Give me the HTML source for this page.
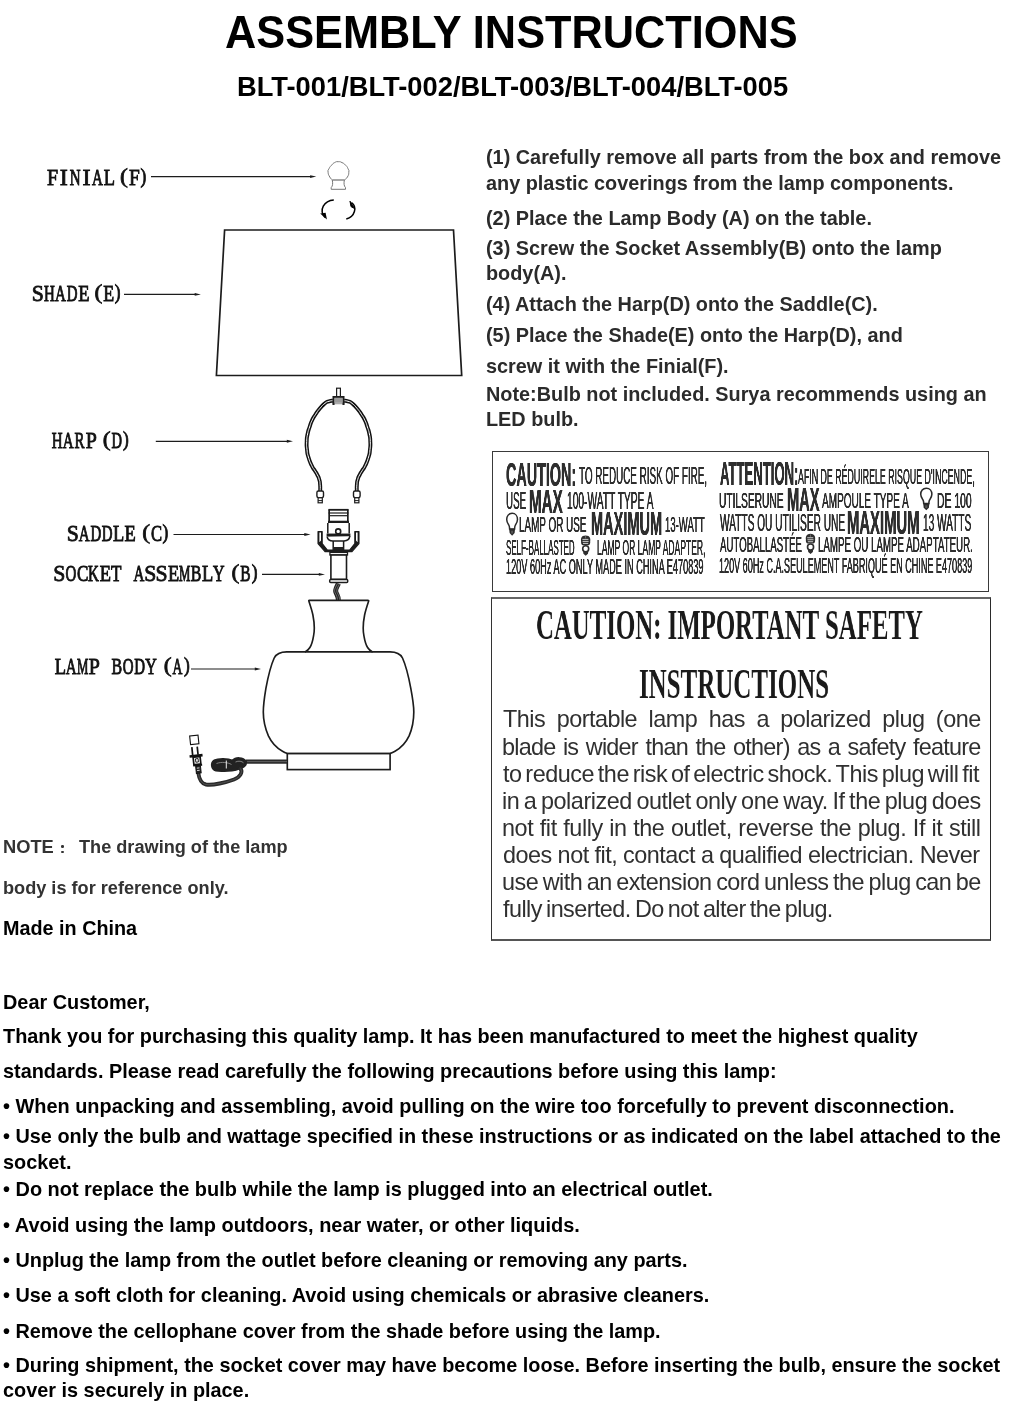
<!DOCTYPE html>
<html><head><meta charset="utf-8"><title>Assembly Instructions</title>
<style>
html,body{margin:0;padding:0;background:#fff;}
body{width:1024px;height:1407px;position:relative;overflow:hidden;font-family:"Liberation Sans",sans-serif;}
.t{position:absolute;white-space:nowrap;will-change:transform;}
svg{position:absolute;left:0;top:0;will-change:transform;}
</style></head><body>
<svg width="1024" height="1407" viewBox="0 0 1024 1407">
<g font-family="'Liberation Serif',serif" font-weight="normal" font-size="22.8" fill="#111" stroke="#111" stroke-width="0.8"><text vector-effect="non-scaling-stroke" transform="translate(46.94 184.80) scale(0.875 1.000)">F</text><text vector-effect="non-scaling-stroke" transform="translate(59.85 184.80) scale(1.057 1.000)">I</text><text vector-effect="non-scaling-stroke" transform="translate(69.67 184.80) scale(0.656 1.000)">N</text><text vector-effect="non-scaling-stroke" transform="translate(82.59 184.80) scale(1.057 1.000)">I</text><text vector-effect="non-scaling-stroke" transform="translate(92.07 184.80) scale(0.659 1.000)">A</text><text vector-effect="non-scaling-stroke" transform="translate(103.79 184.80) scale(0.808 1.000)">L</text><text vector-effect="non-scaling-stroke" transform="translate(120.09 182.81) scale(1.033 0.918)">(</text><text vector-effect="non-scaling-stroke" transform="translate(128.92 184.80) scale(0.850 1.000)">F</text><text vector-effect="non-scaling-stroke" transform="translate(140.42 182.81) scale(0.757 0.918)">)</text></g>
<g font-family="'Liberation Serif',serif" font-weight="normal" font-size="22.8" fill="#111" stroke="#111" stroke-width="0.8"><text vector-effect="non-scaling-stroke" transform="translate(31.78 301.00) scale(0.955 1.000)">S</text><text vector-effect="non-scaling-stroke" transform="translate(44.10 301.00) scale(0.656 1.000)">H</text><text vector-effect="non-scaling-stroke" transform="translate(55.12 301.00) scale(0.659 1.000)">A</text><text vector-effect="non-scaling-stroke" transform="translate(66.84 301.00) scale(0.656 1.000)">D</text><text vector-effect="non-scaling-stroke" transform="translate(78.22 301.00) scale(0.808 1.000)">E</text><text vector-effect="non-scaling-stroke" transform="translate(94.52 299.01) scale(1.033 0.918)">(</text><text vector-effect="non-scaling-stroke" transform="translate(103.35 301.00) scale(0.785 1.000)">E</text><text vector-effect="non-scaling-stroke" transform="translate(114.85 299.01) scale(0.757 0.918)">)</text></g>
<g font-family="'Liberation Serif',serif" font-weight="normal" font-size="22.8" fill="#111" stroke="#111" stroke-width="0.8"><text vector-effect="non-scaling-stroke" transform="translate(51.64 447.50) scale(0.656 1.000)">H</text><text vector-effect="non-scaling-stroke" transform="translate(62.65 447.50) scale(0.659 1.000)">A</text><text vector-effect="non-scaling-stroke" transform="translate(74.38 447.50) scale(0.656 1.000)">R</text><text vector-effect="non-scaling-stroke" transform="translate(85.75 447.50) scale(0.875 1.000)">P</text><text vector-effect="non-scaling-stroke" transform="translate(102.65 445.51) scale(1.033 0.918)">(</text><text vector-effect="non-scaling-stroke" transform="translate(111.48 447.50) scale(0.638 1.000)">D</text><text vector-effect="non-scaling-stroke" transform="translate(122.98 445.51) scale(0.757 0.918)">)</text></g>
<g font-family="'Liberation Serif',serif" font-weight="normal" font-size="22.8" fill="#111" stroke="#111" stroke-width="0.8"><text vector-effect="non-scaling-stroke" transform="translate(66.68 541.00) scale(0.955 1.000)">S</text><text vector-effect="non-scaling-stroke" transform="translate(78.66 541.00) scale(0.659 1.000)">A</text><text vector-effect="non-scaling-stroke" transform="translate(90.38 541.00) scale(0.656 1.000)">D</text><text vector-effect="non-scaling-stroke" transform="translate(101.75 541.00) scale(0.656 1.000)">D</text><text vector-effect="non-scaling-stroke" transform="translate(113.12 541.00) scale(0.808 1.000)">L</text><text vector-effect="non-scaling-stroke" transform="translate(124.49 541.00) scale(0.808 1.000)">E</text><text vector-effect="non-scaling-stroke" transform="translate(142.19 539.01) scale(1.033 0.918)">(</text><text vector-effect="non-scaling-stroke" transform="translate(151.02 541.00) scale(0.729 1.000)">C</text><text vector-effect="non-scaling-stroke" transform="translate(162.52 539.01) scale(0.757 0.918)">)</text></g>
<g font-family="'Liberation Serif',serif" font-weight="normal" font-size="22.8" fill="#111" stroke="#111" stroke-width="0.8"><text vector-effect="non-scaling-stroke" transform="translate(53.28 581.00) scale(0.955 1.000)">S</text><text vector-effect="non-scaling-stroke" transform="translate(65.61 581.00) scale(0.656 1.000)">O</text><text vector-effect="non-scaling-stroke" transform="translate(76.98 581.00) scale(0.750 1.000)">C</text><text vector-effect="non-scaling-stroke" transform="translate(88.00 581.00) scale(0.659 1.000)">K</text><text vector-effect="non-scaling-stroke" transform="translate(99.72 581.00) scale(0.808 1.000)">E</text><text vector-effect="non-scaling-stroke" transform="translate(111.09 581.00) scale(0.750 1.000)">T</text><text vector-effect="non-scaling-stroke" transform="translate(133.48 581.00) scale(0.659 1.000)">A</text><text vector-effect="non-scaling-stroke" transform="translate(144.24 581.00) scale(0.955 1.000)">S</text><text vector-effect="non-scaling-stroke" transform="translate(155.61 581.00) scale(0.955 1.000)">S</text><text vector-effect="non-scaling-stroke" transform="translate(167.94 581.00) scale(0.808 1.000)">E</text><text vector-effect="non-scaling-stroke" transform="translate(178.96 581.00) scale(0.560 1.000)">M</text><text vector-effect="non-scaling-stroke" transform="translate(190.68 581.00) scale(0.700 1.000)">B</text><text vector-effect="non-scaling-stroke" transform="translate(202.05 581.00) scale(0.808 1.000)">L</text><text vector-effect="non-scaling-stroke" transform="translate(213.07 581.00) scale(0.700 1.000)">Y</text><text vector-effect="non-scaling-stroke" transform="translate(231.52 579.01) scale(1.033 0.918)">(</text><text vector-effect="non-scaling-stroke" transform="translate(240.35 581.00) scale(0.680 1.000)">B</text><text vector-effect="non-scaling-stroke" transform="translate(251.85 579.01) scale(0.757 0.918)">)</text></g>
<g font-family="'Liberation Serif',serif" font-weight="normal" font-size="22.8" fill="#111" stroke="#111" stroke-width="0.8"><text vector-effect="non-scaling-stroke" transform="translate(54.64 674.00) scale(0.808 1.000)">L</text><text vector-effect="non-scaling-stroke" transform="translate(65.66 674.00) scale(0.659 1.000)">A</text><text vector-effect="non-scaling-stroke" transform="translate(77.03 674.00) scale(0.560 1.000)">M</text><text vector-effect="non-scaling-stroke" transform="translate(88.75 674.00) scale(0.875 1.000)">P</text><text vector-effect="non-scaling-stroke" transform="translate(111.49 674.00) scale(0.700 1.000)">B</text><text vector-effect="non-scaling-stroke" transform="translate(122.86 674.00) scale(0.656 1.000)">O</text><text vector-effect="non-scaling-stroke" transform="translate(134.23 674.00) scale(0.656 1.000)">D</text><text vector-effect="non-scaling-stroke" transform="translate(145.25 674.00) scale(0.700 1.000)">Y</text><text vector-effect="non-scaling-stroke" transform="translate(163.70 672.01) scale(1.033 0.918)">(</text><text vector-effect="non-scaling-stroke" transform="translate(172.53 674.00) scale(0.600 1.000)">A</text><text vector-effect="non-scaling-stroke" transform="translate(184.03 672.01) scale(0.757 0.918)">)</text></g>
<path d="M151 176.6H311.3" stroke="#1c1c1c" stroke-width="1.2" fill="none"/>
<path d="M316.3 176.6L310.1 175.15L310.1 178.04999999999998Z" fill="#1c1c1c"/>
<path d="M124 294.4H195.9" stroke="#1c1c1c" stroke-width="1.2" fill="none"/>
<path d="M200.9 294.4L194.70000000000002 292.95L194.70000000000002 295.84999999999997Z" fill="#1c1c1c"/>
<path d="M155.8 441.3H288" stroke="#1c1c1c" stroke-width="1.2" fill="none"/>
<path d="M293 441.3L286.8 439.85L286.8 442.75Z" fill="#1c1c1c"/>
<path d="M173.5 534.5H305.5" stroke="#1c1c1c" stroke-width="1.2" fill="none"/>
<path d="M310.5 534.5L304.3 533.05L304.3 535.95Z" fill="#1c1c1c"/>
<path d="M262 574.4H320" stroke="#1c1c1c" stroke-width="1.2" fill="none"/>
<path d="M325 574.4L318.8 572.9499999999999L318.8 575.85Z" fill="#1c1c1c"/>
<path d="M191 669H256" stroke="#1c1c1c" stroke-width="1.2" fill="none"/>
<path d="M261 669L254.8 667.55L254.8 670.45Z" fill="#1c1c1c"/>
<g fill="none" stroke="#777" stroke-width="1"><path d="M332.20 179.90 C331.40 178.93 331.17 179.53 329.80 177.00 C328.43 174.47 328.37 175.07 328.10 172.30 C327.83 169.53 327.83 171.07 329.00 168.70 C330.17 166.33 329.73 167.23 331.60 165.20 C333.47 163.17 332.38 163.77 334.60 162.60 C336.82 161.43 335.78 161.70 338.25 161.70 C340.72 161.70 339.55 161.43 342.00 162.60 C344.45 163.77 343.60 163.17 345.60 165.20 C347.60 167.23 346.93 166.33 348.00 168.70 C349.07 171.07 349.00 169.53 348.80 172.30 C348.60 175.07 348.87 174.47 347.40 177.00 C345.93 179.53 345.40 178.93 344.40 179.90"/><path d="M332.2 179.9 C333 183 332.8 186 331.2 187.6 L331.2 189.3 L345.5 189.3 L345.5 187.6 C343.9 186 343.7 183 344.4 179.9"/><path d="M332.2 180 H344.4" stroke-width="1.3"/></g>
<g fill="none" stroke="#000" stroke-width="1.5"><path d="M333.8 199.9 C324 200.5 318.5 210 325 217.5"/><path d="M346.3 219 C355 216.5 357.5 207 351.5 202.5"/></g>
<path d="M320.2 213.6 L326.9 219.6 L325.6 212.8 Z" fill="#000"/>
<path d="M350 201.2 L354.6 208.6 L351 206.6 Z" fill="#000" stroke="#000" stroke-width="1"/>
<path d="M224.6 230 L453.5 230 L461.7 375.5 L216.4 375.5 Z" fill="#fff" stroke="#1c1c1c" stroke-width="1.7" stroke-linejoin="miter"/>
<path d="M333.00 400.70 C331.67 400.90 331.67 400.43 329.00 401.30 C326.33 402.17 328.00 400.97 325.00 403.30 C322.00 405.63 323.13 404.63 320.00 408.30 C316.87 411.97 318.27 410.23 315.60 414.30 C312.93 418.37 314.00 416.27 312.00 420.50 C310.00 424.73 311.07 422.50 309.60 427.00 C308.13 431.50 308.57 429.17 307.60 434.00 C306.63 438.83 306.90 436.33 306.70 441.50 C306.50 446.67 306.43 444.33 307.00 449.50 C307.57 454.67 306.83 451.67 308.40 457.00 C309.97 462.33 309.63 461.07 311.70 465.50 C313.77 469.93 312.73 467.20 314.60 470.30 C316.47 473.40 315.77 471.80 317.30 474.80 C318.83 477.80 318.27 476.07 319.20 479.30 C320.13 482.53 319.77 480.60 320.10 484.50 C320.43 488.40 320.17 488.83 320.20 491.00" fill="none" stroke="#111" stroke-width="3.9"/>
<path d="M333.00 400.70 C331.67 400.90 331.67 400.43 329.00 401.30 C326.33 402.17 328.00 400.97 325.00 403.30 C322.00 405.63 323.13 404.63 320.00 408.30 C316.87 411.97 318.27 410.23 315.60 414.30 C312.93 418.37 314.00 416.27 312.00 420.50 C310.00 424.73 311.07 422.50 309.60 427.00 C308.13 431.50 308.57 429.17 307.60 434.00 C306.63 438.83 306.90 436.33 306.70 441.50 C306.50 446.67 306.43 444.33 307.00 449.50 C307.57 454.67 306.83 451.67 308.40 457.00 C309.97 462.33 309.63 461.07 311.70 465.50 C313.77 469.93 312.73 467.20 314.60 470.30 C316.47 473.40 315.77 471.80 317.30 474.80 C318.83 477.80 318.27 476.07 319.20 479.30 C320.13 482.53 319.77 480.60 320.10 484.50 C320.43 488.40 320.17 488.83 320.20 491.00" fill="none" stroke="#fff" stroke-width="1.0"/>
<path d="M344.00 400.70 C345.33 400.90 345.33 400.43 348.00 401.30 C350.67 402.17 349.00 400.97 352.00 403.30 C355.00 405.63 353.87 404.63 357.00 408.30 C360.13 411.97 358.73 410.23 361.40 414.30 C364.07 418.37 363.00 416.27 365.00 420.50 C367.00 424.73 365.93 422.50 367.40 427.00 C368.87 431.50 368.43 429.17 369.40 434.00 C370.37 438.83 370.10 436.33 370.30 441.50 C370.50 446.67 370.57 444.33 370.00 449.50 C369.43 454.67 370.17 451.67 368.60 457.00 C367.03 462.33 367.37 461.07 365.30 465.50 C363.23 469.93 364.27 467.20 362.40 470.30 C360.53 473.40 361.23 471.80 359.70 474.80 C358.17 477.80 358.73 476.07 357.80 479.30 C356.87 482.53 357.23 480.60 356.90 484.50 C356.57 488.40 356.83 488.83 356.80 491.00" fill="none" stroke="#111" stroke-width="3.9"/>
<path d="M344.00 400.70 C345.33 400.90 345.33 400.43 348.00 401.30 C350.67 402.17 349.00 400.97 352.00 403.30 C355.00 405.63 353.87 404.63 357.00 408.30 C360.13 411.97 358.73 410.23 361.40 414.30 C364.07 418.37 363.00 416.27 365.00 420.50 C367.00 424.73 365.93 422.50 367.40 427.00 C368.87 431.50 368.43 429.17 369.40 434.00 C370.37 438.83 370.10 436.33 370.30 441.50 C370.50 446.67 370.57 444.33 370.00 449.50 C369.43 454.67 370.17 451.67 368.60 457.00 C367.03 462.33 367.37 461.07 365.30 465.50 C363.23 469.93 364.27 467.20 362.40 470.30 C360.53 473.40 361.23 471.80 359.70 474.80 C358.17 477.80 358.73 476.07 357.80 479.30 C356.87 482.53 357.23 480.60 356.90 484.50 C356.57 488.40 356.83 488.83 356.80 491.00" fill="none" stroke="#fff" stroke-width="1.0"/>
<rect x="336.6" y="388.2" width="3.8" height="8.5" fill="#fff" stroke="#1c1c1c" stroke-width="1.2"/>
<path d="M333.4 404.3 V396.9 H343.6 V404.3" fill="#aaa" stroke="#1c1c1c" stroke-width="1.8"/>
<rect x="334.6" y="398.2" width="7.8" height="3.9" fill="#9a9a9a"/>
<path d="M333.5 403.5 V404.9 M343.5 403.5 V404.9" stroke="#1c1c1c" stroke-width="2"/>
<rect x="316.9" y="491" width="6.6" height="6.6" rx="1.5" fill="#fff" stroke="#1c1c1c" stroke-width="1.4"/>
<rect x="318.09999999999997" y="497.8" width="4.2" height="5" fill="#fff" stroke="#1c1c1c" stroke-width="1.2"/>
<path d="M318.09999999999997 500.6 H322.3" stroke="#1c1c1c" stroke-width="1"/>
<rect x="353.5" y="491" width="6.6" height="6.6" rx="1.5" fill="#fff" stroke="#1c1c1c" stroke-width="1.4"/>
<rect x="354.7" y="497.8" width="4.2" height="5" fill="#fff" stroke="#1c1c1c" stroke-width="1.2"/>
<path d="M354.7 500.6 H358.90000000000003" stroke="#1c1c1c" stroke-width="1"/>
<g fill="none" stroke="#1c1c1c"><rect x="329" y="509.6" width="19" height="11.8" fill="#fff"/><path d="M328.6 509.8 H348.4" stroke-width="1.8"/><path d="M328.6 513 H348.4" stroke-width="1.2"/><path d="M329 515.7 H348" stroke-width="1.2"/><path d="M329.3 509.8 V521.5 M347.7 509.8 V521.5" stroke-width="1.4"/><path d="M328 521.9 H349" stroke-width="2.2"/><path d="M327.8 523 V533.5 M349.2 523 V533.5" stroke-width="1.5"/><path d="M326.6 535.2 H350.4" stroke-width="3.3"/><path d="M327.2 536.8 C327.6 539.5 330 540.9 333 540.9 H344 C347 540.9 349.4 539.5 349.8 536.2" stroke-width="1.5" fill="#fff"/><circle cx="338.2" cy="531.4" r="2.5" fill="#fff" stroke-width="1.6"/><path d="M333.2 541 V550 M343.6 541 V550" stroke-width="1.5"/><rect x="333.8" y="547" width="9.2" height="3" fill="#222" stroke="none"/><path d="M318 531.5 H322.2 V543.6 L327.4 550.1 H349.6 L354.8 543.6 V531.5 H359 V543.6 L352 551.6 H325 L318 543.6 Z" fill="#1c1c1c" stroke-width="1.1" stroke-linejoin="round"/><path d="M319.4 532.6 H321 V540.6 L319.4 542.2 Z M356 532.6 H357.6 V542.2 L356 540.6 Z" fill="#fff" stroke="none"/><rect x="329.9" y="552.4" width="17.6" height="2.6" fill="#fff" stroke-width="1.3"/><rect x="330.9" y="555" width="15.6" height="24.4" fill="#fff" stroke-width="1.6"/><rect x="329.7" y="579.6" width="18" height="3" rx="1" fill="#fff" stroke-width="1.5"/></g>
<path d="M338.4 583.5 C337 587 334.6 589.5 336 592.5 C337.4 595.5 338.6 597 338.4 600.5" fill="none" stroke="#222" stroke-width="5"/>
<path d="M337.4 583.5 C336 587 333.6 589.5 335 592.5 C336.4 595.5 337.6 597 337.4 600.5 M339.6 583.5 C338.2 587 335.8 589.5 337.2 592.5 C338.6 595.5 339.8 597 339.6 600.5" fill="none" stroke="#999" stroke-width="0.6"/>
<path d="M309.2 600.3 H367.9 Q368.9 600.3 368.6 601.2 C367 606 365.4 611 364.6 615 C363 623 362.8 630 363.9 635.7 C364.8 641 366 645 367.6 647.5 C369 649.8 370.5 651 372.5 651.9 H390 C397 651.9 400.5 654 402.5 658 C405 663.5 408.5 676 410.8 688.4 C412.6 698 413.8 706 413.8 712 C413.8 719 412.5 728 409.1 735.9 C406 742.5 401 748 395 751.2 C393 752.3 391.5 753 390.1 753.6 H287.3 C286 753 284.5 752.3 282.5 751.2 C276.5 748 271.5 742.5 268.4 735.9 C265 728 263.3 719 263.3 712 C263.3 706 264.3 698 265.9 688.4 C268.2 676 271.7 663.5 274.2 658 C276.2 654 279.7 651.9 286.7 651.9 H305 C307 651 308.5 649.8 309.9 647.5 C311.5 645 312.7 641 313.6 635.7 C314.7 630 314.5 623 312.9 615 C312.1 611 310.5 606 308.9 601.2 Q308.6 600.3 309.2 600.3 Z" fill="#fff" stroke="#1c1c1c" stroke-width="1.65" stroke-linejoin="round"/>
<path d="M305 651.9 H372.5" stroke="#1c1c1c" stroke-width="1.65"/>
<rect x="287.3" y="753.6" width="102.8" height="16" fill="#fff" stroke="#1c1c1c" stroke-width="1.65"/>
<path d="M287 761.6 H246" stroke="#2a2a2a" stroke-width="4.4" fill="none"/>
<path d="M287 761.6 H246" stroke="#777" stroke-width="0.7" fill="none"/>
<path d="M246 761.5 C243 757.5 236 757 232.5 760.8 C228 758.5 218 758.5 214.5 760.5 C210.5 763 211.5 769 216 770.5 C222 771.8 232 770.2 236.5 769.5 C241 768.5 246.5 766 246 761.5 Z" fill="#222" stroke="#222" stroke-width="2.2"/>
<path d="M216.5 763.5 C222 761.5 228 762.5 231.5 764.5 M235.5 762 C238.5 760.5 242 761.2 243.5 762.8" stroke="#999" stroke-width="0.8" fill="none"/>
<path d="M226.3 760.5 V768.5" stroke="#eee" stroke-width="1"/>
<path d="M240.5 768.5 C243 772 240.5 777 234 779.5 C226 782.5 213 785.5 206 784.5 C201 783.5 199 778 198.3 773" stroke="#2a2a2a" stroke-width="3.9" fill="none" stroke-linecap="round"/>
<path d="M240.5 768.5 C243 772 240.5 777 234 779.5 C226 782.5 213 785.5 206 784.5 C201 783.5 199 778 198.3 773" stroke="#777" stroke-width="0.5" fill="none"/>
<g transform="rotate(-6 196 760)"><rect x="192.2" y="735.4" width="8.4" height="8.8" fill="#fff" stroke="#111" stroke-width="1.1"/><path d="M193.2 746.8 V755 M198.6 746.8 V755" stroke="#111" stroke-width="1.7"/><path d="M190 755.8 H203" stroke="#111" stroke-width="2.6"/><rect x="193.4" y="757" width="7" height="7.4" fill="#fff" stroke="#111" stroke-width="1.7"/><rect x="195.6" y="758.8" width="2.6" height="3.4" fill="#fff" stroke="#111" stroke-width="0.9"/><path d="M192.6 765.3 H201.6" stroke="#111" stroke-width="2"/><rect x="195" y="766.4" width="4.8" height="7" fill="#222" stroke="#111" stroke-width="1"/><path d="M196 768.2 H198.6 M196 770.6 H198.6" stroke="#ddd" stroke-width="0.9"/></g>
</svg>
<style>.c{transform-origin:0 50%;text-shadow:0.5px 0 0 currentColor,-0.5px 0 0 currentColor}.h{text-shadow:none}</style>
<div style="position:absolute;left:492.2px;top:451.1px;width:497px;height:140.9px;border:1.35px solid #3a3a3a;box-sizing:border-box"></div>
<div style="position:absolute;left:491.3px;top:597.3px;width:500px;height:343.4px;border-style:solid;border-color:#666 #2a2a2a #555 #333;border-width:2.6px 1.7px 2.1px 1.8px;box-sizing:border-box"></div>
<div class="t c" style="left:505.77px;top:458.43px;font:bold 33.16px/1 'Liberation Sans',sans-serif;color:#2e2e2e;transform:scaleX(0.4330)">CAUTION:</div>
<div class="t c" style="left:578.70px;top:464.60px;font:normal 23.51px/1 'Liberation Sans',sans-serif;color:#2e2e2e;transform:scaleX(0.4197)">TO REDUCE RISK OF FIRE,</div>
<div class="t c" style="left:505.78px;top:490.05px;font:normal 23.21px/1 'Liberation Sans',sans-serif;color:#2e2e2e;transform:scaleX(0.4218)">USE</div>
<div class="t c" style="left:529.48px;top:485.03px;font:bold 33.16px/1 'Liberation Sans',sans-serif;color:#2e2e2e;transform:scaleX(0.4585)">MAX</div>
<div class="t c" style="left:567.46px;top:490.05px;font:normal 23.21px/1 'Liberation Sans',sans-serif;color:#2e2e2e;transform:scaleX(0.4402)">100-WATT TYPE A</div>
<div class="t c" style="left:519.47px;top:513.31px;font:normal 22.91px/1 'Liberation Sans',sans-serif;color:#2e2e2e;transform:scaleX(0.4321)">LAMP OR USE</div>
<div class="t c" style="left:590.52px;top:507.43px;font:bold 33.16px/1 'Liberation Sans',sans-serif;color:#2e2e2e;transform:scaleX(0.4388)">MAXIMUM</div>
<div class="t c" style="left:664.58px;top:513.31px;font:normal 22.91px/1 'Liberation Sans',sans-serif;color:#2e2e2e;transform:scaleX(0.4161)">13-WATT</div>
<div class="t c" style="left:505.85px;top:536.13px;font:normal 22.76px/1 'Liberation Sans',sans-serif;color:#2e2e2e;transform:scaleX(0.3506)">SELF-BALLASTED</div>
<div class="t c" style="left:597.42px;top:536.13px;font:normal 22.76px/1 'Liberation Sans',sans-serif;color:#2e2e2e;transform:scaleX(0.3755)">LAMP OR LAMP ADAPTER,</div>
<div class="t c" style="left:505.79px;top:556.42px;font:normal 22.31px/1 'Liberation Sans',sans-serif;color:#2e2e2e;transform:scaleX(0.4114)">120V 60Hz AC ONLY MADE IN CHINA E470839</div>
<div class="t c" style="left:719.60px;top:457.42px;font:bold 33.76px/1 'Liberation Sans',sans-serif;color:#2e2e2e;transform:scaleX(0.3887)">ATTENTION:</div>
<div class="t c" style="left:797.50px;top:464.81px;font:normal 22.91px/1 'Liberation Sans',sans-serif;color:#2e2e2e;transform:scaleX(0.3852)">AFIN DE RÉDUIRELE RISQUE D'INCENDE,</div>
<div class="t c" style="left:719.35px;top:488.83px;font:normal 22.76px/1 'Liberation Sans',sans-serif;color:#2e2e2e;transform:scaleX(0.4478)">UTILSERUNE</div>
<div class="t c" style="left:786.81px;top:483.79px;font:bold 32.86px/1 'Liberation Sans',sans-serif;color:#2e2e2e;transform:scaleX(0.4460)">MAX</div>
<div class="t c" style="left:822.10px;top:488.83px;font:normal 22.76px/1 'Liberation Sans',sans-serif;color:#2e2e2e;transform:scaleX(0.4405)">AMPOULE TYPE A</div>
<div class="t c" style="left:937.04px;top:488.83px;font:normal 22.76px/1 'Liberation Sans',sans-serif;color:#2e2e2e;transform:scaleX(0.4567)">DE 100</div>
<div class="t c" style="left:719.80px;top:511.65px;font:normal 23.21px/1 'Liberation Sans',sans-serif;color:#2e2e2e;transform:scaleX(0.4372)">WATTS OU UTILISER UNE</div>
<div class="t c" style="left:847.20px;top:506.99px;font:bold 32.86px/1 'Liberation Sans',sans-serif;color:#2e2e2e;transform:scaleX(0.4511)">MAXIMUM</div>
<div class="t c" style="left:923.36px;top:511.65px;font:normal 23.21px/1 'Liberation Sans',sans-serif;color:#2e2e2e;transform:scaleX(0.4351)">13 WATTS</div>
<div class="t c" style="left:719.80px;top:532.61px;font:normal 22.91px/1 'Liberation Sans',sans-serif;color:#2e2e2e;transform:scaleX(0.4215)">AUTOBALLASTÉE</div>
<div class="t c" style="left:818.28px;top:532.61px;font:normal 22.91px/1 'Liberation Sans',sans-serif;color:#2e2e2e;transform:scaleX(0.4249)">LAMPE OU LAMPE ADAPTATEUR.</div>
<div class="t c" style="left:719.40px;top:554.66px;font:normal 22.61px/1 'Liberation Sans',sans-serif;color:#2e2e2e;transform:scaleX(0.4009)">120V 60Hz C.A.SEULEMENT FABRIQUÉ EN CHINE E470839</div>
<div class="t c h" style="left:535.94px;top:604.22px;font:bold 42.61px/1 'Liberation Serif',sans-serif;color:#1a1a1a;transform:scaleX(0.5821)">CAUTION: IMPORTANT SAFETY</div>
<div class="t c h" style="left:638.81px;top:663.12px;font:bold 42.61px/1 'Liberation Serif',sans-serif;color:#1a1a1a;transform:scaleX(0.5858)">INSTRUCTIONS</div>
<div class="t" style="left:502.80px;top:708.49px;font:normal 23.4px/1 'Liberation Sans',sans-serif;color:#303030;letter-spacing:-0.508px;word-spacing:5.488px">This portable lamp has a polarized plug (one</div>
<div class="t" style="left:501.80px;top:735.69px;font:normal 23.4px/1 'Liberation Sans',sans-serif;color:#303030;letter-spacing:-0.760px;word-spacing:1.761px">blade is wider than the other) as a safety feature</div>
<div class="t" style="left:502.80px;top:762.89px;font:normal 23.4px/1 'Liberation Sans',sans-serif;color:#303030;letter-spacing:-0.440px;word-spacing:-2.410px">to reduce the risk of electric shock. This plug will fit</div>
<div class="t" style="left:501.80px;top:789.79px;font:normal 23.4px/1 'Liberation Sans',sans-serif;color:#303030;letter-spacing:-0.457px;word-spacing:-1.466px">in a polarized outlet only one way. If the plug does</div>
<div class="t" style="left:501.80px;top:816.99px;font:normal 23.4px/1 'Liberation Sans',sans-serif;color:#303030;letter-spacing:-0.425px;word-spacing:0.481px">not fit fully in the outlet, reverse the plug. If it still</div>
<div class="t" style="left:502.80px;top:843.59px;font:normal 23.4px/1 'Liberation Sans',sans-serif;color:#303030;letter-spacing:-0.494px;word-spacing:-0.133px">does not fit, contact a qualified electrician. Never</div>
<div class="t" style="left:501.80px;top:870.79px;font:normal 23.4px/1 'Liberation Sans',sans-serif;color:#303030;letter-spacing:-0.526px;word-spacing:-1.436px">use with an extension cord unless the plug can be</div>
<div class="t" style="left:502.80px;top:897.69px;font:normal 23.4px/1 'Liberation Sans',sans-serif;color:#303030;letter-spacing:-0.559px;word-spacing:-1.741px">fully inserted. Do not alter the plug.</div>
<svg width="1024" height="1407" viewBox="0 0 1024 1407" style="pointer-events:none"><g transform="translate(505.9 512.5) scale(1.000 1.000)"><path d="M6.2 0.8 C9.6 0.8 11.6 3.6 11.6 6.9 C11.6 9.4 10.3 11.2 9.3 13 C8.7 14.2 8.8 15.3 8.7 16.4 L3.7 16.4 C3.6 15.3 3.7 14.2 3.1 13 C2.1 11.2 0.8 9.4 0.8 6.9 C0.8 3.6 2.8 0.8 6.2 0.8 Z" fill="#fff" stroke="#2a2a2a" stroke-width="1.5"/><path d="M3.2 16.2 H9.2 L8.7 20.6 L6.2 23.2 L3.7 20.6 Z" fill="#2a2a2a"/><path d="M5.2 18.2 H7.2 V21 H5.2 Z" fill="#555"/></g><g transform="translate(919.9 487.4) scale(1.032 0.983)"><path d="M6.2 0.8 C9.6 0.8 11.6 3.6 11.6 6.9 C11.6 9.4 10.3 11.2 9.3 13 C8.7 14.2 8.8 15.3 8.7 16.4 L3.7 16.4 C3.6 15.3 3.7 14.2 3.1 13 C2.1 11.2 0.8 9.4 0.8 6.9 C0.8 3.6 2.8 0.8 6.2 0.8 Z" fill="#fff" stroke="#2a2a2a" stroke-width="1.5"/><path d="M3.2 16.2 H9.2 L8.7 20.6 L6.2 23.2 L3.7 20.6 Z" fill="#2a2a2a"/><path d="M5.2 18.2 H7.2 V21 H5.2 Z" fill="#555"/></g><g transform="translate(580.8 535.4) scale(1.000 1.000)"><path d="M2 0.6 C3.5 -0.2 6.2 -0.2 7.6 0.6 C9.4 1.6 9.8 4 9.4 6 C9.6 7.6 9.2 9.2 7.8 9.8 L1.9 9.8 C0.5 9.2 0.1 7.6 0.3 6 C-0.1 4 0.3 1.6 2 0.6 Z" fill="#2e2e2e"/><path d="M1.6 4 H7.6 M1.8 6 H7.8 M2.2 8 H7.4" stroke="#fff" stroke-width="0.75"/><path d="M4.8 0.6 V3" stroke="#ccc" stroke-width="0.4"/><circle cx="4.9" cy="13.3" r="3" fill="#fff" stroke="#2e2e2e" stroke-width="1.6"/><path d="M2.2 15.2 C3.6 16.8 6.2 16.8 7.6 15.2 L7.2 18.4 L4.9 20.4 L2.6 18.4 Z" fill="#2e2e2e"/></g><g transform="translate(805.6 533.8) scale(1.010 0.990)"><path d="M2 0.6 C3.5 -0.2 6.2 -0.2 7.6 0.6 C9.4 1.6 9.8 4 9.4 6 C9.6 7.6 9.2 9.2 7.8 9.8 L1.9 9.8 C0.5 9.2 0.1 7.6 0.3 6 C-0.1 4 0.3 1.6 2 0.6 Z" fill="#2e2e2e"/><path d="M1.6 4 H7.6 M1.8 6 H7.8 M2.2 8 H7.4" stroke="#fff" stroke-width="0.75"/><path d="M4.8 0.6 V3" stroke="#ccc" stroke-width="0.4"/><circle cx="4.9" cy="13.3" r="3" fill="#fff" stroke="#2e2e2e" stroke-width="1.6"/><path d="M2.2 15.2 C3.6 16.8 6.2 16.8 7.6 15.2 L7.2 18.4 L4.9 20.4 L2.6 18.4 Z" fill="#2e2e2e"/></g></svg>
<div class="t" style="left:225.4px;top:11.95px;font:bold 43.3px/1 'Liberation Sans',sans-serif;color:#000;transform:scaleY(1.055);transform-origin:0 35.75px;">ASSEMBLY INSTRUCTIONS</div>
<div class="t" style="left:237px;top:72.79px;font:bold 27.3px/1 'Liberation Sans',sans-serif;color:#000;">BLT-001/BLT-002/BLT-003/BLT-004/BLT-005</div>
<div class="t" style="left:486.4px;top:148.40px;font:bold 19.85px/1 'Liberation Sans',sans-serif;color:#2b2b2b;">(1) Carefully remove all parts from the box and remove</div>
<div class="t" style="left:486.4px;top:173.70px;font:bold 19.85px/1 'Liberation Sans',sans-serif;color:#2b2b2b;">any plastic coverings from the lamp components.</div>
<div class="t" style="left:486.4px;top:208.80px;font:bold 19.85px/1 'Liberation Sans',sans-serif;color:#2b2b2b;">(2) Place the Lamp Body (A) on the table.</div>
<div class="t" style="left:486.4px;top:239.40px;font:bold 19.85px/1 'Liberation Sans',sans-serif;color:#2b2b2b;">(3) Screw the Socket Assembly(B) onto the lamp</div>
<div class="t" style="left:486.4px;top:264.10px;font:bold 19.85px/1 'Liberation Sans',sans-serif;color:#2b2b2b;">body(A).</div>
<div class="t" style="left:486.4px;top:294.90px;font:bold 19.85px/1 'Liberation Sans',sans-serif;color:#2b2b2b;">(4) Attach the Harp(D) onto the Saddle(C).</div>
<div class="t" style="left:486.4px;top:325.90px;font:bold 19.85px/1 'Liberation Sans',sans-serif;color:#2b2b2b;">(5) Place the Shade(E) onto the Harp(D), and</div>
<div class="t" style="left:486.4px;top:356.50px;font:bold 19.85px/1 'Liberation Sans',sans-serif;color:#2b2b2b;">screw it with the Finial(F).</div>
<div class="t" style="left:486.4px;top:384.50px;font:bold 19.85px/1 'Liberation Sans',sans-serif;color:#2b2b2b;">Note:Bulb not included. Surya recommends using an</div>
<div class="t" style="left:486.4px;top:409.80px;font:bold 19.85px/1 'Liberation Sans',sans-serif;color:#2b2b2b;">LED bulb.</div>
<div class="t" style="left:2.7px;top:837.71px;font:bold 18.3px/1 'Liberation Sans',sans-serif;color:#333;">NOTE</div>
<div style="position:absolute;left:61.3px;top:845.4px;width:2.6px;height:2.6px;border-radius:50%;background:#333"></div><div style="position:absolute;left:61.3px;top:850.5px;width:2.6px;height:2.6px;border-radius:50%;background:#333"></div>
<div class="t" style="left:78.8px;top:837.84px;font:bold 18.15px/1 'Liberation Sans',sans-serif;color:#333;">The drawing of the lamp</div>
<div class="t" style="left:2.8px;top:878.94px;font:bold 18.15px/1 'Liberation Sans',sans-serif;color:#333;">body is for reference only.</div>
<div class="t" style="left:3.0px;top:919.14px;font:bold 19.8px/1 'Liberation Sans',sans-serif;color:#000;">Made in China</div>
<div class="t" style="left:3px;top:992.97px;font:bold 19.88px/1 'Liberation Sans',sans-serif;color:#000;">Dear Customer,</div>
<div class="t" style="left:3px;top:1026.68px;font:bold 19.865px/1 'Liberation Sans',sans-serif;color:#000;">Thank you for purchasing this quality lamp. It has been manufactured to meet the highest quality</div>
<div class="t" style="left:3px;top:1062.27px;font:bold 19.88px/1 'Liberation Sans',sans-serif;color:#000;">standards. Please read carefully the following precautions before using this lamp:</div>
<div class="t" style="left:3px;top:1096.94px;font:bold 19.915px/1 'Liberation Sans',sans-serif;color:#000;">• When unpacking and assembling, avoid pulling on the wire too forcefully to prevent disconnection.</div>
<div class="t" style="left:3px;top:1127.37px;font:bold 19.887px/1 'Liberation Sans',sans-serif;color:#000;">• Use only the bulb and wattage specified in these instructions or as indicated on the label attached to the</div>
<div class="t" style="left:3px;top:1153.37px;font:bold 19.88px/1 'Liberation Sans',sans-serif;color:#000;">socket.</div>
<div class="t" style="left:3px;top:1180.33px;font:bold 19.935px/1 'Liberation Sans',sans-serif;color:#000;">• Do not replace the bulb while the lamp is plugged into an electrical outlet.</div>
<div class="t" style="left:3px;top:1214.89px;font:bold 19.98px/1 'Liberation Sans',sans-serif;color:#000;">• Avoid using the lamp outdoors, near water, or other liquids.</div>
<div class="t" style="left:3px;top:1250.97px;font:bold 19.88px/1 'Liberation Sans',sans-serif;color:#000;">• Unplug the lamp from the outlet before cleaning or removing any parts.</div>
<div class="t" style="left:3px;top:1285.87px;font:bold 19.88px/1 'Liberation Sans',sans-serif;color:#000;">• Use a soft cloth for cleaning. Avoid using chemicals or abrasive cleaners.</div>
<div class="t" style="left:3px;top:1321.60px;font:bold 19.85px/1 'Liberation Sans',sans-serif;color:#000;">• Remove the cellophane cover from the shade before using the lamp.</div>
<div class="t" style="left:3px;top:1355.70px;font:bold 19.85px/1 'Liberation Sans',sans-serif;color:#000;">• During shipment, the socket cover may have become loose. Before inserting the bulb, ensure the socket</div>
<div class="t" style="left:3px;top:1381.07px;font:bold 19.88px/1 'Liberation Sans',sans-serif;color:#000;">cover is securely in place.</div>
</body></html>
